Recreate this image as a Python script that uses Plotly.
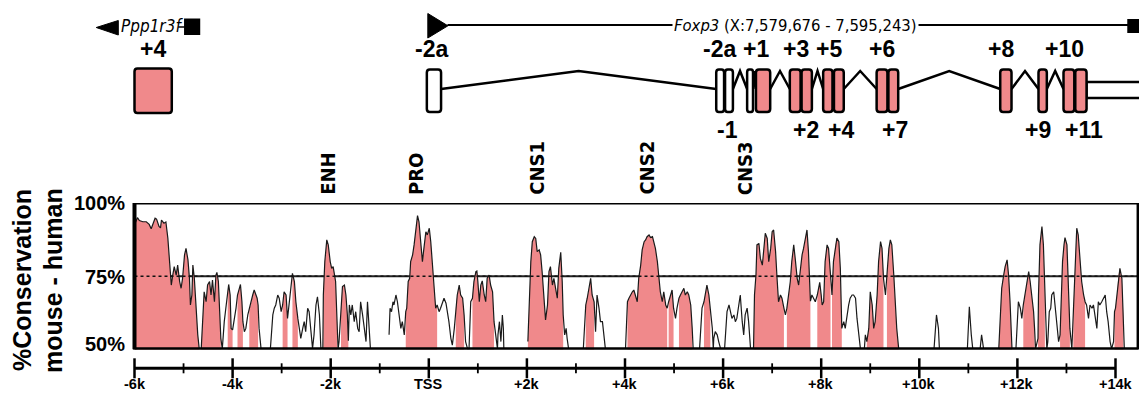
import plotly.graph_objects as go

# ---------------- data ----------------
# conservation profile: position (kb relative to Foxp3 TSS) and % identity mouse-human (None = below 50 %)
pos = [-5.99, -5.94, -5.90, -5.83, -5.76, -5.70, -5.66, -5.63, -5.58, -5.55, -5.50, -5.47, -5.45, -5.40, -5.36,
       -5.32, -5.29, -5.27, -5.25, -5.22, -5.19, -5.15, -5.12, -5.08, -5.05, -5.02, -4.98, -4.95, -4.91, -4.88,
       -4.86, -4.83, -4.81, -4.78, -4.75, -4.71, -4.68, -4.66,
       -4.64, -4.61, -4.58, -4.54, -4.51, -4.47, -4.44, -4.41, -4.37, -4.34, -4.32, -4.29, -4.26, -4.24, -4.21,
       -4.17, -4.13, -4.10, -4.08, -4.05, -4.03, -4.00, -3.97, -3.93, -3.90, -3.86, -3.84, -3.81, -3.79, -3.76,
       -3.73, -3.69, -3.66, -3.63, -3.59, -3.56, -3.52, -3.50, -3.48, -3.46, -3.42, -3.33,
       -3.23, -3.18, -3.15, -3.12, -3.08, -3.05, -3.01, -2.98, -2.95, -2.91, -2.88, -2.85, -2.81, -2.78, -2.74,
       -2.71, -2.67, -2.64, -2.61, -2.57, -2.54, -2.51, -2.47, -2.44, -2.40, -2.37, -2.34, -2.30, -2.27, -2.23,
       -2.20, -2.16, -2.15, -2.12, -2.08, -2.05, -2.01, -1.98, -1.95, -1.93, -1.90, -1.87, -1.85, -1.83, -1.79,
       -1.76, -1.72, -1.69, -1.66, -1.64, -1.62, -1.59, -1.56, -1.52, -1.49, -1.45, -1.42, -1.39, -1.35, -1.32,
       -1.28, -1.25, -1.21, -1.19, -1.00,
       -0.81, -0.79, -0.76, -0.73, -0.71, -0.67, -0.64, -0.60, -0.57, -0.54, -0.50, -0.47, -0.45, -0.42, -0.39,
       -0.37, -0.33, -0.30, -0.26, -0.23, -0.20, -0.16, -0.13, -0.10, -0.06, -0.03, 0.01, 0.04, 0.07, 0.11,
       0.14, 0.17, 0.21, 0.24, 0.28, 0.31, 0.35, 0.38, 0.41, 0.45, 0.48, 0.52, 0.55, 0.58, 0.62, 0.65, 0.69,
       0.72, 0.75, 0.79, 0.82, 0.855, 0.89, 0.92, 0.96, 0.98, 1.00, 1.03, 1.06, 1.09, 1.13, 1.16, 1.19, 1.23,
       1.26, 1.30, 1.33, 1.37, 1.40, 1.41, 1.44, 1.47, 1.50, 1.52, 1.53, 1.70,
       2.02, 2.05, 2.08, 2.11, 2.15, 2.18, 2.21, 2.25, 2.28, 2.31, 2.35, 2.38, 2.42, 2.45, 2.48, 2.52, 2.55,
       2.59, 2.62, 2.65, 2.69, 2.72, 2.74, 2.77, 2.80, 2.82, 2.85, 3.00,
       3.15, 3.18, 3.20, 3.23, 3.27, 3.30, 3.33, 3.37, 3.40, 3.43, 3.47, 3.50, 3.54, 3.57, 3.60, 3.80,
       4.01, 4.05, 4.08, 4.11, 4.15, 4.18, 4.21, 4.25, 4.28, 4.32, 4.35, 4.39, 4.42, 4.45, 4.49, 4.52, 4.56,
       4.59, 4.62, 4.66, 4.69, 4.72, 4.76, 4.79, 4.83, 4.86, 4.89, 4.93, 4.96, 4.99, 5.03, 5.06, 5.10, 5.13,
       5.17, 5.20, 5.23, 5.27, 5.30, 5.34, 5.37, 5.39, 5.46,
       5.52, 5.54, 5.57, 5.61, 5.64, 5.67, 5.71, 5.74, 5.78, 5.80, 5.81, 5.84, 5.88, 5.91, 5.95, 5.99,
       6.03, 6.06, 6.08, 6.12, 6.15, 6.18, 6.22, 6.25, 6.28, 6.32, 6.35, 6.39, 6.42, 6.45, 6.49, 6.52, 6.56, 6.59,
       6.62, 6.64, 6.67, 6.69, 6.73, 6.76, 6.80, 6.83, 6.86, 6.90, 6.93, 6.97, 7.00, 7.03, 7.07, 7.10, 7.13,
       7.17, 7.20, 7.24, 7.27, 7.30, 7.34, 7.37, 7.40, 7.44, 7.47, 7.51, 7.54, 7.57, 7.61, 7.64, 7.68, 7.71,
       7.74, 7.76, 7.78, 7.81, 7.85, 7.88, 7.92, 7.95, 7.97, 8.00, 8.02, 8.05, 8.08, 8.12, 8.15, 8.19, 8.22,
       8.25, 8.29, 8.32, 8.36, 8.39, 8.42, 8.46, 8.49, 8.53, 8.56, 8.59, 8.63, 8.66, 8.70, 8.73, 8.76, 8.80, 8.84,
       8.88, 8.90, 8.93, 8.97, 9.00, 9.04, 9.07, 9.10, 9.14, 9.17, 9.21, 9.24, 9.27, 9.31, 9.34, 9.38, 9.41,
       9.44, 9.48, 9.51, 9.54, 9.58, 9.90,
       10.30, 10.35, 10.39, 10.41, 10.70,
       10.98, 11.02, 11.06, 11.09, 11.15,
       11.24, 11.27, 11.29, 11.31, 11.50,
       11.62, 11.65, 11.68, 11.72, 11.75, 11.79, 11.82, 11.85, 11.89, 11.93,
       11.97, 11.99, 12.02, 12.06, 12.09, 12.12, 12.16, 12.19, 12.23, 12.26, 12.29, 12.33, 12.35, 12.37,
       12.42, 12.43, 12.46, 12.50, 12.53, 12.56, 12.60, 12.62, 12.65, 12.68, 12.70, 12.74, 12.77, 12.80,
       12.84, 12.87, 12.89, 12.92, 12.95, 12.97, 13.01, 13.04, 13.07, 13.11, 13.14, 13.18, 13.21, 13.24,
       13.28, 13.31, 13.35, 13.38, 13.41, 13.45, 13.48, 13.52, 13.55, 13.58, 13.62, 13.65, 13.68, 13.72,
       13.75, 13.79, 13.82, 13.85, 13.89, 13.92, 13.96, 13.98, 14.00, 14.03, 14.06, 14.09, 14.13, 14.16, 14.18]

cons = [93.0, 95.0, 94.0, 93.6, 93.6, 92.7, 91.2, 92.5, 94.8, 94.5, 92.0, 91.5, 94.2, 93.1, 93.5,
        88.0, 82.0, 76.0, 72.0, 75.4, 78.3, 75.4, 78.8, 73.2, 70.9, 74.3, 82.3, 84.5, 80.6, 74.3,
        65.2, 68.6, 78.8, 74.3, 65.2, 55.0, 50.2, None,
        50.2, 62.9, 69.7, 66.3, 72.0, 73.2, 68.6, 73.7, 66.3, 75.4, 76.3, 73.2, 62.9, 53.8, 50.2,
        59.5, 65.2, 69.7, 72.2, 68.6, 57.2, 56.7, 59.5, 64.1, 68.6, 71.5, 72.2, 66.3, 59.5, 56.1,
        57.2, 61.8, 64.1, 65.2, 68.6, 70.3, 68.6, 67.5, 65.2, 57.2, 50.2, None,
        50.2, 61.8, 64.1, 65.2, 68.6, 67.5, 62.9, 65.2, 69.7, 68.6, 60.6, 65.2, 72.0, 76.0, 73.2,
        66.3, 60.6, 57.2, 53.8, 57.2, 59.5, 56.1, 64.1, 62.9, 55.0, 50.4, 55.0, 65.2, 68.0, 61.8,
        50.4, 50.4, 68.6, 80.0, 87.4, 85.7, 80.0, 77.7, 78.3, 75.4, 73.2, 59.5, 50.2, 52.7, 64.1,
        71.5, 72.0, 68.6, 61.8, 53.0, 65.2, 61.8, 65.2, 59.5, 62.9, 57.2, 56.1, 66.3, 61.8, 57.2,
        52.7, 66.3, 55.0, 50.2, None,
        55.0, 64.1, 62.9, 66.3, 65.2, 68.6, 66.3, 61.8, 57.2, 59.5, 55.0, 62.9, 64.1, 73.2, 74.3,
        80.0, 82.3, 85.7, 92.5, 95.7, 93.6, 85.7, 80.0, 84.5, 90.2, 89.1, 91.4, 86.8, 80.0, 73.2,
        64.1, 65.2, 62.9, 64.1, 66.3, 67.5, 65.8, 62.9, 59.5, 53.8, 51.5, 57.2, 64.1, 68.6, 72.0, 68.6, 67.5,
        61.8, 52.7, 50.2, 50.2, 66.3, 67.5, 73.2, 76.6, 76.8, 73.2, 66.3, 72.0, 73.4, 68.6, 66.3, 74.3, 75.4,
        72.0, 69.7, 59.5, 52.7, 50.2, 55.0, 59.5, 52.7, 61.8, 57.2, 50.2, None,
        52.7, 68.6, 80.0, 86.8, 88.5, 87.9, 83.4, 84.0, 82.3, 76.6, 68.6, 60.1, 65.2, 76.6, 78.3, 72.0, 74.3,
        70.9, 67.5, 77.7, 83.2, 73.2, 61.8, 55.0, 57.2, 53.8, 50.2, None,
        50.2, 59.5, 65.2, 67.5, 70.9, 74.3, 68.6, 66.3, 56.1, 68.6, 64.1, 59.5, 59.5, 55.0, 50.2, None,
        50.2, 66.3, 67.5, 68.6, 69.7, 70.3, 68.6, 66.3, 74.3, 78.8, 84.0, 86.8, 87.4, 88.5, 89.1, 88.2, 88.5,
        86.8, 84.5, 80.0, 74.3, 69.7, 66.3, 69.7, 65.2, 64.1, 66.3, 68.6, 70.3, 64.1, 60.6, 64.1, 67.5, 68.6,
        70.3, 70.9, 68.6, 69.7, 68.6, 65.2, 57.2, 50.2, None,
        50.2, 57.2, 64.1, 66.3, 69.7, 72.0, 68.6, 62.9, 57.2, 50.2, 53.8, 56.1, 55.0, 52.7, 50.2, None,
        50.2, 57.2, 62.9, 65.2, 62.9, 60.6, 61.8, 59.5, 60.6, 65.2, 68.6, 59.5, 55.0, 61.8, 64.1, 59.5, 50.2, None,
        50.2, 68.6, 75.4, 85.7, 86.2, 81.1, 78.8, 85.7, 89.7, 87.9, 80.0, 84.5, 90.2, 90.8, 83.4, 74.3, 66.3,
        68.6, 67.5, 64.1, 61.8, 64.1, 68.6, 73.2, 80.0, 85.7, 81.1, 74.3, 72.0, 76.6, 82.3, 84.5, 89.1, 90.8,
        83.4, 74.8, 66.5, 68.6, 67.5, 66.3, 68.6, 72.0, 72.9, 68.6, 65.2, 66.3, 80.0, 85.7, 84.5, 75.4, 68.6,
        80.0, 85.7, 88.0, 86.8, 77.7, 57.2, 59.5, 57.2, 62.9, 65.2, 67.5, 68.6, 68.6, 67.5, 60.6, 55.0, 50.2, None,
        50.2, 55.0, 52.7, 57.2, 69.7, 65.2, 57.2, 59.5, 68.6, 80.0, 86.8, 84.5, 74.3, 68.6, 75.4, 84.5, 87.4,
        85.7, 75.4, 66.3, 57.2, 50.2, None,
        50.2, 61.8, 57.2, 50.2, None,
        50.2, 64.6, 55.0, 50.2, None,
        50.2, 55.0, 52.7, 50.2, None,
        50.2, 62.9, 70.9, 75.4, 78.3, 80.6, 75.4, 66.3, 50.2, None,
        50.2, 57.2, 66.3, 64.1, 60.6, 65.2, 69.7, 73.2, 76.6, 73.2, 68.6, 62.9, 57.2, 50.2,
        53.8, 68.6, 85.7, 92.0, 85.7, 68.6, 50.2, 52.7, 62.9, 64.1, 68.6, 69.7, 64.1, 59.5,
        52.7, 55.0, 68.6, 80.0, 85.7, 88.2, 85.7, 74.3, 57.2, 50.2, 62.9, 80.0, 91.4, 89.1,
        80.0, 73.2, 68.6, 66.3, 65.2, 60.6, 65.2, 64.1, 65.2, 61.8, 57.2, 66.3, 65.2, 66.3,
        67.5, 68.6, 62.9, 59.5, 52.7, 50.2, 52.7, 62.9, 64.1, 68.6, 75.4, 77.7, 74.3, 61.8, 50.2]

# conserved (shaded) regions, kb
cns_start = [-6.00, -4.64, -4.10, -3.91, -3.66, -2.98, -2.80, -2.15, -1.80, -0.47, 0.55, 0.86, 2.02, 3.20,
             4.05, 4.89, 5.10, 5.61, 6.62, 7.30, 7.90, 8.22, 8.93, 9.34, 11.62, 12.12, 12.42, 12.87, 13.14, 13.98]
cns_end = [-4.68, -4.24, -4.00, -3.79, -3.48, -2.88, -2.67, -1.86, -1.64, 0.17, 0.72, 1.33, 2.74, 3.37,
           4.86, 5.00, 5.38, 5.74, 7.25, 7.78, 8.20, 8.42, 9.27, 9.58, 11.89, 12.35, 12.57, 13.09, 13.38, 14.16]

major_ticks = [-6, -4, -2, 0, 2, 4, 6, 8, 10, 12, 14]
major_labels = ["-6k", "-4k", "-2k", "TSS", "+2k", "+4k", "+6k", "+8k", "+10k", "+12k", "+14k"]
minor_ticks = [-5, -3, -1, 1, 3, 5, 7, 9, 11, 13]
y_ticks = [100, 75, 50]
y_labels = ["100%", "75%", "50%"]
threshold = 75

elem_names = ["ENH", "PRO", "CNS1", "CNS2", "CNS3"]
elem_pos = [-2.06, -0.26, 2.20, 4.44, 6.45]

# gene models (kb)
ppp_exon_start = [-6.00]
ppp_exon_end = [-5.24]
foxp3_exon_start = [-0.04, 5.86, 6.04, 6.49, 6.67, 7.36, 7.60, 8.04, 8.26, 9.13, 9.37, 11.65, 12.43, 12.94, 13.18]
foxp3_exon_end = [0.25, 6.02, 6.20, 6.61, 6.96, 7.58, 7.81, 8.23, 8.46, 9.35, 9.57, 11.88, 12.60, 13.16, 13.41]
foxp3_exon_coding = [False, False, False, False, True, True, True, True, True, True, True, True, True, True, True]
utr_start, utr_end = 13.41, 14.7
foxp3_start, foxp3_end = -0.02, 14.48
ppp_start, ppp_end = -6.78, -4.66

labels_above = ["+4", "-2a", "-2a", "+1", "+3", "+5", "+6", "+8", "+10"]
labels_above_pos = [-5.62, 0.06, 5.92, 6.68, 7.48, 8.15, 9.23, 11.67, 12.95]
labels_below = ["-1", "+2", "+4", "+7", "+9", "+11"]
labels_below_pos = [6.09, 7.68, 8.41, 9.50, 12.43, 13.35]

# ---------------- styles ----------------
PINK = "#F0898B"
BOLD = "Liberation Sans"
NARROW = "Liberation Sans Narrow, DejaVu Sans Condensed, Liberation Sans"
W, H = 1139, 397

fig = go.Figure()

# shaded conserved regions
for s, e in zip(cns_start, cns_end):
    xs = [x for x, v in zip(pos, cons) if v is not None and s - 1e-9 <= x <= e + 1e-9]
    ys = [v for x, v in zip(pos, cons) if v is not None and s - 1e-9 <= x <= e + 1e-9]
    fig.add_trace(go.Scatter(x=xs, y=ys, mode="lines", line=dict(width=0), fill="tozeroy",
                             fillcolor=PINK, hoverinfo="skip", xaxis="x", yaxis="y"))

# profile line
fig.add_trace(go.Scatter(x=pos, y=cons, mode="lines", line=dict(color="#1a1a1a", width=1.2),
                         connectgaps=False, hoverinfo="skip", xaxis="x", yaxis="y"))

shapes = []
# threshold line (solid under, dashed over)
shapes.append(dict(type="line", xref="x", yref="y", x0=-6, x1=14.46, y0=threshold, y1=threshold,
                   line=dict(color="#222", width=2), layer="below"))
shapes.append(dict(type="line", xref="x", yref="y", x0=-6, x1=14.46, y0=threshold, y1=threshold,
                   line=dict(color="#111", width=1.3, dash="3px,3px"), layer="above"))
# frame
shapes.append(dict(type="rect", xref="x", yref="y", x0=-6, x1=14.46, y0=50, y1=100,
                   line=dict(color="black", width=3), layer="above"))
shapes.append(dict(type="line", xref="x", yref="y", x0=-6, x1=14.46, y0=50, y1=50,
                   line=dict(color="black", width=4.5), layer="above"))
shapes.append(dict(type="line", xref="x", yref="y", x0=-6, x1=-6, y0=50, y1=100,
                   line=dict(color="black", width=4), layer="above"))

# bottom ruler
def py(p):
    return 1 - p / H

ruler_y = 368.3
shapes.append(dict(type="line", xref="x", yref="paper", x0=major_ticks[0], x1=major_ticks[-1],
                   y0=py(ruler_y), y1=py(ruler_y), line=dict(color="black", width=3)))
for t in major_ticks:
    shapes.append(dict(type="line", xref="x", yref="paper", x0=t, x1=t, y0=py(ruler_y - 10),
                       y1=py(ruler_y + 10), line=dict(color="black", width=2.5)))
for t in minor_ticks:
    shapes.append(dict(type="line", xref="x", yref="paper", x0=t, x1=t, y0=py(ruler_y - 5),
                       y1=py(ruler_y + 5), line=dict(color="black", width=1.8)))

annotations = []
for t, lab in zip(major_ticks, major_labels):
    annotations.append(dict(x=t, y=py(384), xref="x", yref="paper", text=lab, showarrow=False,
                            xanchor="center", yanchor="middle",
                            font=dict(family=BOLD, size=14.5, color="black", weight="bold")))
for v, lab, sh in zip(y_ticks, y_labels, [0, -1, 6]):
    annotations.append(dict(x=-6.16, y=v, xref="x", yref="y", text=lab, showarrow=False,
                            xanchor="right", yanchor="middle", yshift=sh,
                            font=dict(family=BOLD, size=20, color="black", weight="bold")))
annotations.append(dict(x=22 / W, y=py(280), xref="paper", yref="paper", text="%Conservation",
                        showarrow=False, textangle=-90, xanchor="center", yanchor="middle",
                        font=dict(family=BOLD, size=25, color="black", weight="bold")))
annotations.append(dict(x=53 / W, y=py(280), xref="paper", yref="paper", text="mouse - human",
                        showarrow=False, textangle=-90, xanchor="center", yanchor="middle",
                        font=dict(family=BOLD, size=25, color="black", weight="bold")))
for name, p in zip(elem_names, elem_pos):
    annotations.append(dict(x=p, y=py(197), xref="x", yref="paper", text=name, showarrow=False,
                            textangle=-90, xanchor="center", yanchor="bottom",
                            font=dict(family=NARROW, size=20, color="black", weight="bold")))

# ---------------- gene diagram (y2 units ~ pixels from top) ----------------
EY0, EY1, EMID, EPEAK = 69.5, 112.0, 89.0, 71.0
RX, RY = 0.06, 3.0

def rrect(x0, x1, y0, y1):
    rx = min(RX, (x1 - x0) / 3)
    return (f"M{x0+rx},{y0} L{x1-rx},{y0} Q{x1},{y0} {x1},{y0+RY} L{x1},{y1-RY} Q{x1},{y1} {x1-rx},{y1} "
            f"L{x0+rx},{y1} Q{x0},{y1} {x0},{y1-RY} L{x0},{y0+RY} Q{x0},{y0} {x0+rx},{y0} Z")

# introns (chevrons between successive Foxp3 exons)
for e_prev, s_next in zip(foxp3_exon_end[:-1], foxp3_exon_start[1:]):
    if s_next - e_prev > 0.05:
        mid = (e_prev + s_next) / 2
        shapes.append(dict(type="path", xref="x", yref="y2",
                           path=f"M{e_prev},{EMID} L{mid},{EPEAK} L{s_next},{EMID}",
                           line=dict(color="black", width=2.5)))
# 3' UTR
shapes.append(dict(type="rect", xref="x", yref="y2", x0=utr_start, x1=utr_end, y0=82, y1=98,
                   line=dict(color="black", width=2.5), fillcolor="white"))
for s, e, c in zip(foxp3_exon_start, foxp3_exon_end, foxp3_exon_coding):
    shapes.append(dict(type="path", xref="x", yref="y2", path=rrect(s, e, EY0, EY1),
                       line=dict(color="black", width=2.5), fillcolor=PINK if c else "white"))
for s, e in zip(ppp_exon_start, ppp_exon_end):
    shapes.append(dict(type="path", xref="x", yref="y2", path=rrect(s, e, EY0 - 1, EY1 + 1),
                       line=dict(color="black", width=2.5), fillcolor=PINK))

# Foxp3 transcript arrow line
shapes.append(dict(type="line", xref="x", yref="y2", x0=foxp3_start + 0.4, x1=foxp3_end - 0.2,
                   y0=25, y1=25, line=dict(color="black", width=1.8)))
shapes.append(dict(type="path", xref="x", yref="y2",
                   path=f"M{foxp3_start},13.5 L{foxp3_start},38 L{foxp3_start+0.41},25.8 Z",
                   fillcolor="black", line=dict(color="black", width=1)))
shapes.append(dict(type="rect", xref="x", yref="y2", x0=foxp3_end - 0.24, x1=foxp3_end + 0.1, y0=19,
                   y1=33, fillcolor="black", line=dict(color="black", width=0)))
# Ppp1r3f
shapes.append(dict(type="path", xref="x", yref="y2",
                   path=f"M{ppp_start},27.5 L{ppp_start+0.45},20.5 L{ppp_start+0.45},35 Z",
                   fillcolor="black", line=dict(color="black", width=1)))
shapes.append(dict(type="line", xref="x", yref="y2", x0=ppp_end - 0.45, x1=ppp_end - 0.3, y0=27, y1=27,
                   line=dict(color="black", width=1.5)))
shapes.append(dict(type="rect", xref="x", yref="y2", x0=ppp_end - 0.33, x1=ppp_end, y0=18.5, y1=35,
                   fillcolor="black", line=dict(color="black", width=0)))

annotations.append(dict(x=-5.64, y=26, xref="x", yref="y2", text="<i>Ppp1r3f</i>", showarrow=False,
                        xanchor="center", yanchor="middle", font=dict(family=NARROW, size=17, color="black")))
annotations.append(dict(x=7.48, y=25, xref="x", yref="y2", text="<i>Foxp3</i> (X:7,579,676 - 7,595,243)",
                        showarrow=False, xanchor="center", yanchor="middle", bgcolor="white", borderpad=1,
                        font=dict(family=NARROW, size=16.5, color="black")))
for lab, p in zip(labels_above, labels_above_pos):
    annotations.append(dict(x=p, y=49, xref="x", yref="y2", text=lab, showarrow=False,
                            xanchor="center", yanchor="middle",
                            font=dict(family=BOLD, size=23, color="black", weight="bold")))
for lab, p in zip(labels_below, labels_below_pos):
    annotations.append(dict(x=p, y=130, xref="x", yref="y2", text=lab, showarrow=False,
                            xanchor="center", yanchor="middle",
                            font=dict(family=BOLD, size=23, color="black", weight="bold")))

# invisible trace to create the gene-diagram subplot
fig.add_trace(go.Scatter(x=[0], y=[0], mode="markers", marker=dict(opacity=0), hoverinfo="skip",
                         xaxis="x", yaxis="y2"))

x_left = -6 - 134.5 / 49.05
x_right = -6 + (W - 134.5) / 49.05
fig.update_layout(
    width=W, height=H, margin=dict(l=0, r=0, t=0, b=0),
    paper_bgcolor="white", plot_bgcolor="white", showlegend=False,
    xaxis=dict(range=[x_left, x_right], domain=[0, 1], visible=False, fixedrange=True),
    yaxis=dict(range=[50, 100], domain=[1 - 349.5 / H, 1 - 203 / H], visible=False, fixedrange=True),
    yaxis2=dict(range=[150, 0], domain=[1 - 150 / H, 1], visible=False, fixedrange=True),
    shapes=shapes, annotations=annotations,
)
fig.write_html("out.html", config={"displayModeBar": False},
               post_script="document.body.style.margin='0px';document.body.style.overflow='hidden';")
